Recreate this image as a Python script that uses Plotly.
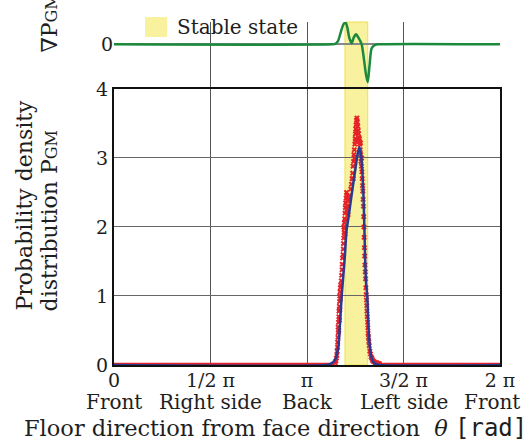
import plotly.graph_objects as go

# ---------------- data ----------------
tick_vals = [0, 1.5708, 3.1416, 4.7124, 6.2832]
tick_text = ["0", "1/2 π", "π", "3/2 π", "2 π"]
direction_names = ["Front", "Right side", "Back", "Left side", "Front"]
y_ticks = [0, 1, 2, 3, 4]

stable_lo = 3.760
stable_hi = 4.130

fit_theta = [0, 3.45, 3.532, 3.597, 3.651, 3.679, 3.707, 3.733, 3.760, 3.785, 3.814, 3.850,
             3.890, 3.931, 3.964, 3.993, 4.021, 4.045, 4.061, 4.074, 4.086, 4.102, 4.122,
             4.140, 4.167, 4.200, 4.249, 4.33, 6.2832]
fit_p = [0, 0, 0.02, 0.07, 0.26, 0.60, 1.00, 1.30, 1.60, 1.95, 2.12, 2.35,
         2.60, 2.85, 3.05, 3.16, 3.05, 2.75, 2.45, 2.05, 1.60, 1.20, 1.00,
         0.58, 0.24, 0.08, 0.02, 0, 0]

obs_theta = [3.600, 3.612, 3.620, 3.628, 3.632, 3.638, 3.640, 3.645, 3.650, 3.648, 3.655, 3.660,
             3.662, 3.668, 3.672, 3.675, 3.680, 3.684, 3.690, 3.660, 3.670, 3.676, 3.686,
             3.700, 3.705, 3.712, 3.715, 3.720, 3.728, 3.732, 3.735, 3.740, 3.745, 3.742, 3.750,
             3.755, 3.760, 3.765, 3.770, 3.778, 3.785, 3.790, 3.795, 3.800, 3.805, 3.810, 3.815,
             3.820, 3.830, 3.752, 3.762, 3.775, 3.790,
             3.855, 3.865, 3.875, 3.885, 3.890, 3.900, 3.905, 3.912, 3.920, 3.925, 3.930, 3.935,
             3.940, 3.948, 3.955, 3.960, 3.945, 3.938, 3.918, 3.895,
             3.968, 3.975, 3.980, 3.985, 3.990, 3.995, 4.000, 4.008, 4.015, 4.020, 4.028, 4.035,
             4.040, 4.045, 4.050, 4.055, 4.030, 4.012,
             4.060, 4.065, 4.068, 4.072, 4.076, 4.080, 4.084, 4.090, 4.095, 4.100, 4.105, 4.110,
             4.115, 4.118, 4.122, 4.128, 4.132, 4.136, 4.142, 4.148, 4.155,
             4.165, 4.175, 4.185, 4.195, 4.205, 4.215, 4.230, 4.245, 4.260, 4.280, 4.300, 4.320]
obs_p = [0.03, 0.06, 0.10, 0.14, 0.20, 0.26, 0.33, 0.40, 0.47, 0.55, 0.62, 0.70,
         0.78, 0.85, 0.92, 1.00, 1.06, 1.12, 1.16, 0.50, 0.65, 0.80, 0.96,
         1.22, 1.30, 1.38, 1.46, 1.55, 1.60, 1.68, 1.76, 1.84, 1.92, 2.00, 2.06,
         2.12, 2.20, 2.28, 2.35, 2.42, 2.50, 2.46, 2.38, 2.30, 2.22, 2.18, 2.28,
         2.40, 2.45, 1.98, 1.90, 2.10, 2.25,
         2.55, 2.62, 2.70, 2.78, 2.88, 2.95, 3.05, 3.12, 3.20, 3.28, 3.35, 3.42,
         3.48, 3.55, 3.58, 3.52, 3.38, 3.25, 3.00, 2.70,
         3.46, 3.40, 3.35, 3.30, 3.24, 3.28, 3.20, 3.12, 3.05, 2.95, 2.88, 2.80,
         2.70, 2.60, 2.52, 2.40, 3.00, 3.22,
         2.30, 2.15, 2.00, 1.85, 1.70, 1.58, 1.45, 1.35, 1.25, 1.12, 1.02, 0.94,
         0.86, 0.78, 0.70, 0.62, 0.54, 0.46, 0.40, 0.34, 0.28,
         0.20, 0.16, 0.12, 0.10, 0.08, 0.06, 0.05, 0.04, 0.03, 0.03, 0.02, 0.02]
obs_base_theta = [0, 3.57, None, 4.30, 6.2832]
obs_base_p = [0.012, 0.012, None, 0.012, 0.012]

grad_theta = [0, 3.55, 3.60, 3.646, 3.695, 3.74, 3.772, 3.80, 3.83, 3.869, 3.90, 3.939, 3.97,
              4.00, 4.032, 4.069, 4.102, 4.130, 4.159, 4.195, 4.249, 4.30, 6.2832]
grad_val = [0, 0, 0.02, 0.15, 0.6, 0.95, 1.0, 0.75, 0.3, 0.05, 0.3, 0.46, 0.35,
            0.2, 0, -0.7, -1.4, -1.75, -1.0, -0.18, -0.03, 0, 0]

# ---------------- figure ----------------
SERIF = "DejaVu Serif"
TXT = "#1e1e1e"
RED = "#e52228"
BLUE = "#2b3990"
GREEN = "#1b8a3c"
BAND_FILL = "rgba(247,238,140,0.85)"
BAND_LINE = "#ece24a"

fig = go.Figure()

fig.add_trace(go.Scatter(x=obs_base_theta, y=obs_base_p, mode="lines",
                         line=dict(color=RED, width=3), showlegend=False, hoverinfo="skip"))
fig.add_trace(go.Scatter(x=obs_theta, y=obs_p, mode="markers",
                         marker=dict(symbol="x", size=5, color=RED, line=dict(width=0)),
                         showlegend=False))
fig.add_trace(go.Scatter(x=fit_theta, y=fit_p, mode="lines",
                         line=dict(color=BLUE, width=2.5, shape="spline", smoothing=0.6),
                         showlegend=False))
fig.add_trace(go.Scatter(x=grad_theta, y=grad_val, mode="lines", yaxis="y2",
                         line=dict(color=GREEN, width=2.5, shape="spline", smoothing=0.7),
                         showlegend=False))

# stable band across both panels
fig.add_shape(type="rect", xref="x", yref="paper", x0=stable_lo, x1=stable_hi, y0=0, y1=1,
              fillcolor=BAND_FILL, line=dict(color=BAND_LINE, width=1), layer="below")

# legend (square + text)
fig.add_shape(type="rect", xref="paper", yref="paper", x0=0.0803, x1=0.1373, y0=0.9563, y1=1.0146,
              fillcolor=BAND_FILL, line=dict(width=0), layer="above")
fig.add_annotation(text="Stable state", xref="paper", yref="paper", x=0.158, y=0.985,
                   xanchor="left", yanchor="middle", showarrow=False,
                   font=dict(family=SERIF, size=20, color=TXT))

# direction names under the tick numbers
name_shift = [0, 0, 0, 0, -8]
for xv, name, sh in zip(tick_vals, direction_names, name_shift):
    fig.add_annotation(text=name, xref="x", yref="paper", x=xv, y=-0.108, xshift=sh,
                       xanchor="center", yanchor="middle", showarrow=False,
                       font=dict(family=SERIF, size=20, color=TXT))

# axis titles
fig.add_annotation(text="Probability density",
                   xref="paper", yref="paper", x=-0.233, y=0.1516, textangle=-90,
                   xanchor="center", yanchor="bottom", showarrow=False,
                   font=dict(family=SERIF, size=22, color=TXT))
fig.add_annotation(text="distribution P<span style='font-size:16px'>GM</span>",
                   xref="paper", yref="paper", x=-0.166, y=0.1516, textangle=-90,
                   xanchor="center", yanchor="bottom", showarrow=False,
                   font=dict(family=SERIF, size=22, color=TXT))
fig.add_annotation(text="∇P<span style='font-size:16px'>GM</span>",
                   xref="paper", yref="paper", x=-0.168, y=0.904, textangle=-90,
                   xanchor="center", yanchor="bottom", showarrow=False,
                   font=dict(family=SERIF, size=22, color=TXT))
fig.add_annotation(text="Floor direction from face direction  <i>θ</i> <span style='font-family:DejaVu Sans Mono;font-size:24px'>[rad]</span>",
                   xref="paper", yref="paper", x=0.418, y=-0.183,
                   xanchor="center", yanchor="middle", showarrow=False,
                   font=dict(family=SERIF, size=22.5, color=TXT))

fig.update_layout(
    width=526, height=448,
    margin=dict(l=114, r=26, t=22, b=83, autoexpand=False),
    paper_bgcolor="white", plot_bgcolor="white",
    showlegend=False,
    xaxis=dict(range=[0, 6.2832], tickvals=tick_vals, ticktext=tick_text,
               showgrid=True, gridcolor="#555", gridwidth=1.2,
               showline=True, linecolor="#111", linewidth=2, mirror=True,
               zeroline=False, ticks="", anchor="y", ticklabelstandoff=-3,
               tickfont=dict(family=SERIF, size=19, color=TXT)),
    yaxis=dict(domain=[0, 0.8047], range=[0, 4], tickvals=y_ticks,
               showgrid=True, gridcolor="#666", gridwidth=1.2,
               showline=True, linecolor="#111", linewidth=2, mirror=True,
               zeroline=False, ticks="",
               tickfont=dict(family=SERIF, size=19, color=TXT)),
    yaxis2=dict(domain=[0.8105, 1], range=[-1.977, 1.032], tickvals=[0],
                showgrid=False, showline=False, zeroline=True, zerolinecolor="#888",
                zerolinewidth=1.5, ticks="", anchor="x",
                tickfont=dict(family=SERIF, size=19, color=TXT)),
)

fig.write_html("out.html", config={"displayModeBar": False},
               post_script="document.body.style.margin='0';document.body.style.padding='0';"
                           "document.body.style.overflow='hidden';")
